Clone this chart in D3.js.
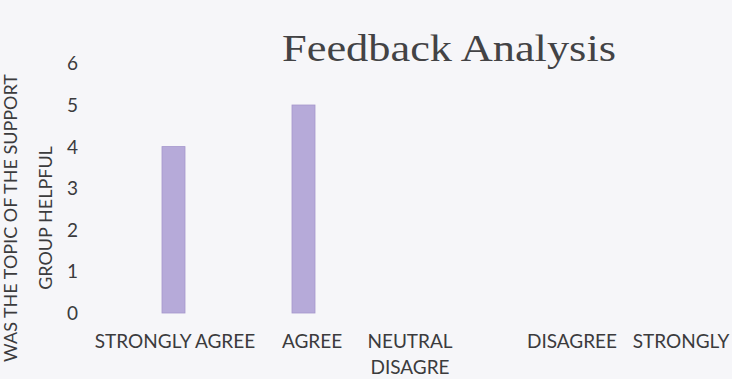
<!DOCTYPE html>
<html>
<head>
<meta charset="utf-8">
<script src="https://cdn.jsdelivr.net/npm/d3@7"></script>
<style>
  html, body { margin: 0; padding: 0; background: #f6f6f9; }
  svg { display: block; }
</style>
</head>
<body>
<div id="chart"></div>
<script>
// Survey responses: "Was the topic of the support group helpful"
const categories = ["STRONGLY AGREE", "AGREE", "NEUTRAL DISAGRE", "DISAGREE", "STRONGLY DISAGREE"];
const labelLines = [["STRONGLY AGREE"], ["AGREE"], ["NEUTRAL", "DISAGRE"], ["DISAGREE"], ["STRONGLY"]];
const counts = [4, 5, 0, 0, 0];
const yTicks = [0, 1, 2, 3, 4, 5, 6];
const titleText = "Feedback Analysis";
const yTitleLines = ["WAS THE TOPIC OF THE SUPPORT", "GROUP HELPFUL"];

// Layout: horizontal nudge of each category label from its band centre
const labelNudge = [1.5, 8.5, -23.5, 8.5, -12.5];

const W = 732, H = 379;
const textColor = "#3b3b3d";
const barColor = "#b6aad9";

const svg = d3.select("#chart").append("svg")
  .attr("width", W).attr("height", H)
  .style("background", "#f6f6f9");

// Category band runs past the right edge of the canvas
const x = d3.scaleBand()
  .domain(categories)
  .range([108.5, 758.5])
  .paddingInner(0.823)
  .paddingOuter(0.4115);

const y = d3.scaleLinear().domain([0, 6]).range([313, 63.4]);

// Title
svg.append("text")
  .attr("x", 449).attr("y", 61)
  .attr("text-anchor", "middle")
  .attr("font-family", "'Liberation Serif', 'DejaVu Serif', serif")
  .attr("font-size", 38)
  .attr("fill", "#434345")
  .attr("textLength", 334)
  .attr("lengthAdjust", "spacingAndGlyphs")
  .text(titleText);

// Y axis (labels only, no line or ticks)
const yAxis = d3.axisLeft(y).tickValues(yTicks).tickSize(0).tickPadding(0).tickFormat(d3.format("d"));
const yg = svg.append("g").attr("transform", "translate(78,0)").call(yAxis);
yg.select(".domain").remove();
yg.selectAll("text")
  .attr("font-family", "Lato, 'Open Sans', sans-serif")
  .attr("font-size", 19)
  .attr("fill", textColor)
  .attr("dy", "0.34em");

// X axis with wrapped category labels
const xAxis = d3.axisBottom(x).tickSize(0).tickPadding(0).tickFormat(() => "");
const xg = svg.append("g").attr("transform", "translate(0,313)").call(xAxis);
xg.select(".domain").remove();
xg.selectAll(".tick").each(function(d, i) {
  const t = d3.select(this).select("text")
    .attr("font-family", "Lato, 'Open Sans', sans-serif")
    .attr("font-size", 19)
    .attr("fill", textColor)
    .attr("text-anchor", "middle")
    .attr("y", 35)
    .attr("dy", null);
  labelLines[i].forEach((line, k) => {
    t.append("tspan").attr("x", labelNudge[i]).attr("dy", k === 0 ? 0 : 26).text(line);
  });
});

// Bars
svg.append("g").selectAll("rect")
  .data(categories.map((c, i) => ({ c, v: counts[i] })).filter(d => d.v > 0))
  .join("rect")
  .attr("x", d => x(d.c))
  .attr("width", x.bandwidth())
  .attr("y", d => y(d.v))
  .attr("height", d => y(0) - y(d.v))
  .attr("fill", barColor)
  .attr("stroke", "#a597cc")
  .attr("stroke-width", 0.8);

// Y axis title (two rotated lines)
const yt = svg.append("text")
  .attr("transform", "translate(0,218) rotate(-90)")
  .attr("text-anchor", "middle")
  .attr("font-family", "Lato, 'Open Sans', sans-serif")
  .attr("font-size", 18)
  .attr("fill", textColor);
yTitleLines.forEach((line, k) => {
  yt.append("tspan").attr("x", 0).attr("y", k === 0 ? 17 : 52).text(line);
});
</script>
</body>
</html>
